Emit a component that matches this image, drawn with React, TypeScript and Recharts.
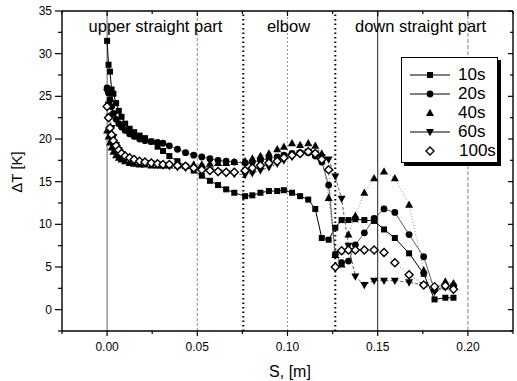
import React from 'react';
import { LineChart, Line, XAxis, YAxis, ReferenceLine, Legend } from 'recharts';

// sensor positions along the pipe [m]
const positions = [
  0, 0.0008, 0.0016, 0.0025, 0.0035, 0.005, 0.0065, 0.008, 0.01, 0.0125,
  0.015, 0.018, 0.021, 0.0245, 0.028, 0.031, 0.0345, 0.039, 0.0435, 0.048,
  0.0525, 0.057, 0.0615, 0.066, 0.0705, 0.0765, 0.0805, 0.085, 0.0897, 0.0943,
  0.098, 0.1025, 0.107, 0.1115, 0.1154, 0.119, 0.1228, 0.1265, 0.13, 0.1338,
  0.1376, 0.1426, 0.148, 0.1535, 0.1595, 0.1674, 0.1755, 0.1815, 0.1875, 0.192,
];

// temperature difference [K] per time step
const dt10s = [
  31.5, 28.7, 27.9, 25.8, 25.3, 24.2, 23.3, 22.6, 21.8, 21.2,
  20.8, 20.4, 20.1, 19.7, 19.1, 18.6, 18.0, 17.4, 16.8, 16.3,
  15.7, 15.1, 14.6, 14.1, 13.7, 13.3, 13.4, 13.7, 13.9, 13.9,
  14.0, 13.7, 13.3, 12.9, 11.8, 8.4, 8.2, 9.6, 10.5, 10.5,
  10.6, 10.5, 10.4, 9.4, 8.4, 6.6, 4.2, 1.2, 1.4, 1.4,
];
const dt20s = [
  26.0, 25.4, 24.6, 23.8, 23.0, 22.3, 21.8, 21.4, 21.0, 20.6,
  20.3, 20.0, 19.8, 19.7, 19.6, 19.5, 19.2, 18.8, 18.4, 18.1,
  17.9, 17.7, 17.5, 17.4, 17.3, 17.2, 17.3, 17.5, 17.7, 17.9,
  18.1, 18.3, 18.4, 18.4, 18.0, 17.3, 14.6, 6.5, 5.5, 5.7,
  7.6, 9.0, 10.7, 11.8, 11.4, 8.8, 6.2, 2.3, 2.7, 2.8,
];
const dt40s = [
  21.0, 20.3, 19.6, 19.0, 18.5, 18.1, 17.8, 17.6, 17.4, 17.2,
  17.1, 17.0, 17.0, 16.9, 16.9, 16.9, 16.9, 16.9, 16.9, 17.0,
  17.0, 17.1, 17.2, 17.2, 17.3, 17.4, 17.7, 18.0, 18.3, 18.8,
  19.1, 19.5, 19.3, 19.5, 19.2, 18.3, 13.1, 6.4, 5.3, 8.8,
  11.0, 13.7, 15.4, 16.2, 15.4, 12.3, 4.6, 2.5, 3.3, 3.1,
];
const dt60s = [
  25.5, 24.0, 22.6, 21.3, 20.2, 19.3, 18.7, 18.2, 17.9, 17.6,
  17.4, 17.3, 17.2, 17.1, 17.0, 16.9, 16.8, 16.7, 16.6, 16.5,
  16.4, 16.3, 16.1, 16.0, 15.9, 15.8, 16.0, 16.3, 16.7, 17.1,
  17.5, 17.9, 18.3, 18.5, 18.3, 17.9, 17.6, 15.6, 13.0, 7.5,
  3.9, 2.9, 3.4, 3.4, 3.4, 3.2, 2.9, 2.1, 2.6, 2.5,
];
const dt100s = [
  23.8, 22.5, 21.3, 20.5, 19.8, 19.2, 18.7, 18.3, 18.0, 17.8,
  17.6, 17.4, 17.3, 17.2, 17.1, 17.0, 17.0, 16.9, 16.8, 16.6,
  16.4, 16.3, 16.2, 16.1, 16.1, 16.3, 16.6, 16.9, 17.2, 17.4,
  17.8, 18.1, 18.3, 18.5, 18.3, 17.6, 16.4, 5.0, 6.9, 7.0,
  7.0, 7.0, 7.0, 6.7, 5.5, 4.1, 2.9, 2.7, 2.8, 2.4,
];

const seriesNames = ['10s', '20s', '40s', '60s', '100s'];
const xTicks = [-0.025, 0, 0.025, 0.05, 0.075, 0.1, 0.125, 0.15, 0.175, 0.2, 0.225];
const yTicks = [-2.5, 0, 2.5, 5, 7.5, 10, 12.5, 15, 17.5, 20, 22.5, 25, 27.5, 30, 32.5, 35];
const X_MIN = -0.025;
const X_MAX = 0.225;
const Y_MIN = -2.5;
const Y_MAX = 35;

const rows = positions.map((s, i) => ({
  s,
  t10: dt10s[i],
  t20: dt20s[i],
  t40: dt40s[i],
  t60: dt60s[i],
  t100: dt100s[i],
}));

const FONT = '"Liberation Sans", Arial, sans-serif';

// plot box (margin + axis sizes below)
const PLOT = { left: 62, top: 11, right: 513, bottom: 331 };
const px = (v: number) => PLOT.left + ((v - X_MIN) / (X_MAX - X_MIN)) * (PLOT.right - PLOT.left);
const py = (v: number) => PLOT.bottom - ((v - Y_MIN) / (Y_MAX - Y_MIN)) * (PLOT.bottom - PLOT.top);

type Shape = 'square' | 'circle' | 'up' | 'down' | 'diamond';

const Marker = ({ shape, cx, cy }: { shape: Shape; cx: number; cy: number }) => {
  if (shape === 'square') return <rect x={cx - 3} y={cy - 3} width={6} height={6} fill="#000" />;
  if (shape === 'circle') return <circle cx={cx} cy={cy} r={3.4} fill="#000" />;
  if (shape === 'up')
    return <polygon points={`${cx},${cy - 4.3} ${cx - 4},${cy + 3} ${cx + 4},${cy + 3}`} fill="#000" />;
  if (shape === 'down')
    return <polygon points={`${cx},${cy + 4.3} ${cx - 4},${cy - 3} ${cx + 4},${cy - 3}`} fill="#000" />;
  return (
    <polygon
      points={`${cx},${cy - 4} ${cx + 4},${cy} ${cx},${cy + 4} ${cx - 4},${cy}`}
      fill="#fff"
      stroke="#000"
      strokeWidth={1.4}
    />
  );
};

const dotFor = (shape: Shape) => (props: any) => {
  const { cx, cy, index } = props;
  if (cx == null || cy == null) return <g key={index} />;
  return <Marker key={index} shape={shape} cx={cx} cy={cy} />;
};

const isMajor = (v: number, step: number) => Math.abs(v / step - Math.round(v / step)) < 1e-6;

const BottomTick = ({ x, y, payload }: any) => {
  const major = isMajor(payload.value, 0.05);
  return (
    <g>
      <line x1={x} y1={y} x2={x} y2={y + (major ? 5 : 3)} stroke="#000" strokeWidth={1.2} />
      {major && (
        <text x={x} y={y + 20} textAnchor="middle" fontSize={12} fontFamily={FONT} fill="#000">
          {payload.value.toFixed(2)}
        </text>
      )}
    </g>
  );
};

const LeftTick = ({ x, y, payload }: any) => {
  const major = isMajor(payload.value, 5);
  return (
    <g>
      <line x1={x} y1={y} x2={x - (major ? 7 : 4)} y2={y} stroke="#000" strokeWidth={1.2} />
      {major && (
        <text x={x - 10} y={y + 4} textAnchor="end" fontSize={12} fontFamily={FONT} fill="#000">
          {payload.value}
        </text>
      )}
    </g>
  );
};

const legendShapes: Shape[] = ['square', 'circle', 'up', 'down', 'diamond'];
const legendHasLine = [true, true, false, true, false];

const LegendBox = () => (
  <div
    style={{
      width: 97,
      height: 106,
      border: '1px solid #000',
      boxShadow: '3px 3px 0 #000',
      background: '#fff',
      paddingTop: 7,
      boxSizing: 'border-box',
      fontFamily: FONT,
    }}
  >
    {seriesNames.map((name, i) => (
      <div key={name} style={{ display: 'flex', alignItems: 'center', height: 19, fontSize: 17 }}>
        <svg width={40} height={12} style={{ marginLeft: 8 }}>
          {legendHasLine[i] && <line x1={0} y1={6} x2={40} y2={6} stroke="#000" strokeWidth={1} />}
          <Marker shape={legendShapes[i]} cx={20} cy={6} />
        </svg>
        <span style={{ marginLeft: name === '100s' ? 9 : 8, lineHeight: '19px' }}>{name}</span>
      </div>
    ))}
  </div>
);

const App: React.FC = () => {
  return (
    <div style={{ position: 'absolute', left: 0, top: 0, width: 517, height: 381, background: '#fff' }}>
      <LineChart width={517} height={381} data={rows} margin={{ top: 11, right: 4, bottom: 0, left: 0 }}>
        <XAxis
          xAxisId="b"
          dataKey="s"
          type="number"
          domain={[X_MIN, X_MAX]}
          ticks={xTicks}
          interval={0}
          height={50}
          tickSize={0}
          tickMargin={0}
          tick={<BottomTick />}
          axisLine={{ stroke: '#000', strokeWidth: 1.4 }}
          tickLine={false}
        />
        <YAxis
          yAxisId="l"
          type="number"
          domain={[Y_MIN, Y_MAX]}
          ticks={yTicks}
          interval={0}
          width={62}
          tickSize={0}
          tickMargin={0}
          tick={<LeftTick />}
          axisLine={{ stroke: '#000', strokeWidth: 1.4 }}
          tickLine={false}
        />

        <ReferenceLine xAxisId="b" yAxisId="l" x={0} stroke="#666" strokeWidth={1} />
        <ReferenceLine xAxisId="b" yAxisId="l" x={0.05} stroke="#888" strokeDasharray="3 2" />
        <ReferenceLine xAxisId="b" yAxisId="l" x={0.1} stroke="#999" strokeDasharray="2 2" />
        <ReferenceLine xAxisId="b" yAxisId="l" x={0.15} stroke="#222" strokeWidth={1} />
        <ReferenceLine xAxisId="b" yAxisId="l" x={0.2} stroke="#888" strokeDasharray="4 2" />
        <ReferenceLine xAxisId="b" yAxisId="l" x={0.0755} stroke="#000" strokeWidth={2} strokeDasharray="1.5 3" />
        <ReferenceLine xAxisId="b" yAxisId="l" x={0.1265} stroke="#000" strokeWidth={2} strokeDasharray="1.5 3" />

        <Line xAxisId="b" yAxisId="l" dataKey="t10" name="10s" stroke="#000" strokeWidth={1}
          dot={dotFor('square')} isAnimationActive={false} />
        <Line xAxisId="b" yAxisId="l" dataKey="t20" name="20s" stroke="#333" strokeWidth={0.8}
          dot={dotFor('circle')} isAnimationActive={false} />
        <Line xAxisId="b" yAxisId="l" dataKey="t40" name="40s" stroke="#777" strokeWidth={0.8} strokeDasharray="1 2"
          dot={dotFor('up')} isAnimationActive={false} />
        <Line xAxisId="b" yAxisId="l" dataKey="t60" name="60s" stroke="#333" strokeWidth={0.8} strokeDasharray="3 2"
          dot={dotFor('down')} isAnimationActive={false} />
        <Line xAxisId="b" yAxisId="l" dataKey="t100" name="100s" stroke="#666" strokeWidth={0.8} strokeDasharray="1 2"
          dot={dotFor('diamond')} isAnimationActive={false} />

        <Legend
          layout="vertical"
          align="center"
          verticalAlign="middle"
          content={<LegendBox />}
          wrapperStyle={{ left: 401, top: 57, width: 100, height: 110 }}
        />
      </LineChart>

      {/* top and right frame edges with inward ticks, plus the text annotations */}
      <svg
        width={517}
        height={381}
        style={{ position: 'absolute', left: 0, top: 0, pointerEvents: 'none' }}
        fontFamily={FONT}
      >
        <line x1={PLOT.left} y1={PLOT.top} x2={PLOT.right} y2={PLOT.top} stroke="#000" strokeWidth={1.4} />
        <line x1={PLOT.right} y1={PLOT.top} x2={PLOT.right} y2={PLOT.bottom} stroke="#000" strokeWidth={1.4} />
        {xTicks.map((v) => (
          <line key={`t${v}`} x1={px(v)} y1={PLOT.top} x2={px(v)} y2={PLOT.top + (isMajor(v, 0.05) ? 5 : 3)}
            stroke="#000" strokeWidth={1.2} />
        ))}
        {yTicks.map((v) => (
          <line key={`r${v}`} x1={PLOT.right} y1={py(v)} x2={PLOT.right - (isMajor(v, 5) ? 5 : 3)} y2={py(v)}
            stroke="#000" strokeWidth={1.2} />
        ))}

        <text x={155.5} y={32} textAnchor="middle" fontSize={16.5} fill="#000">upper straight part</text>
        <text x={288.5} y={32} textAnchor="middle" fontSize={16.5} fill="#000">elbow</text>
        <text x={355} y={32} fontSize={16.5} fill="#000">down straight part</text>
        <text x={290} y={377} textAnchor="middle" fontSize={16} fill="#000">S, [m]</text>
        <text transform="translate(22,172) rotate(-90)" textAnchor="middle" fontSize={15} fill="#000">ΔT [K]</text>
      </svg>
    </div>
  );
};

export default App;
